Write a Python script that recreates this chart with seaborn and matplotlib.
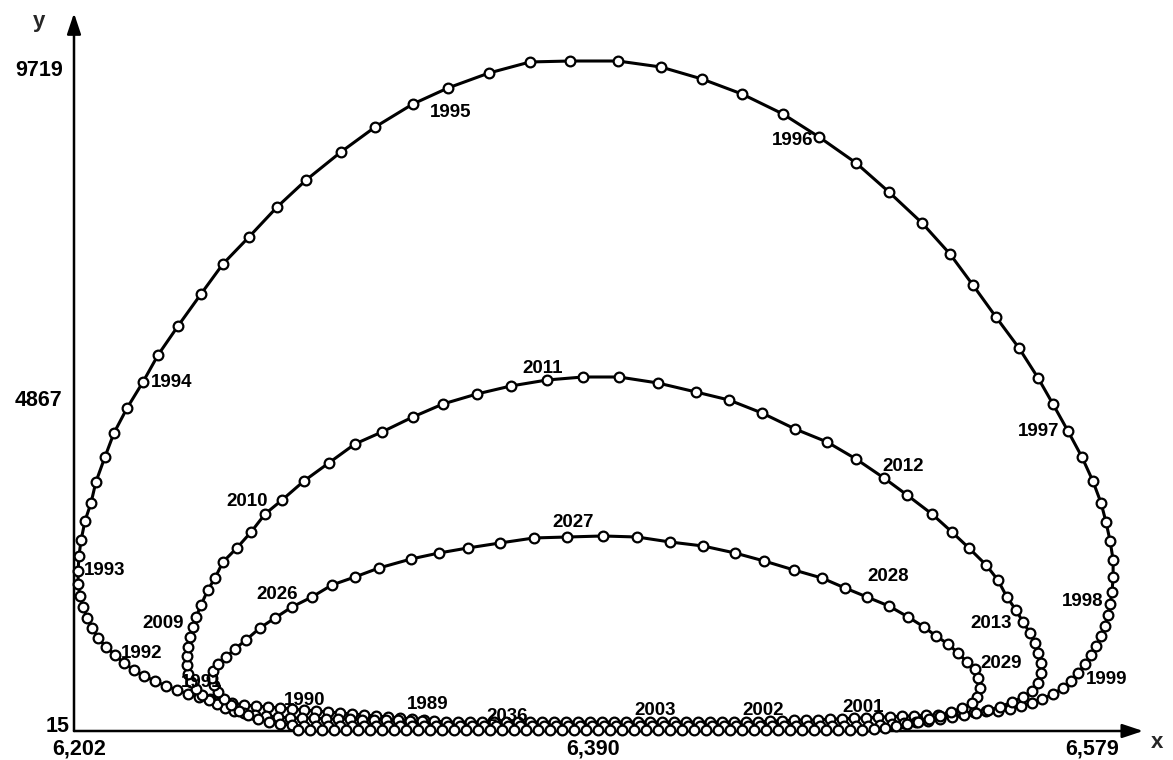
import numpy as np
import pandas as pd
import matplotlib
matplotlib.use("Agg")
import matplotlib.pyplot as plt
import seaborn as sns

# Phase trajectory (x, y), quarterly-ish observations in chronological order.
# 1989 -> 1999: bottom run to the left, then the large loop
x_1989_1999 = [
    6.3299, 6.3255, 6.3211, 6.3167, 6.3123, 6.3079, 6.3035, 6.2992, 6.2948, 6.2904,
    6.2860, 6.2816, 6.2772, 6.2729, 6.2685, 6.2641, 6.2597, 6.2557, 6.2517, 6.2477,
    6.2436, 6.2396, 6.2356, 6.2316, 6.2276, 6.2239, 6.2203, 6.2170, 6.2137, 6.2108,
    6.2086, 6.2068, 6.2053, 6.2042, 6.2035,
    6.2035, 6.2038, 6.2046, 6.2060, 6.2082, 6.2100, 6.2133, 6.2166, 6.2214, 6.2272,
    6.2327, 6.2400, 6.2484, 6.2564, 6.2659, 6.2762, 6.2868, 6.2995, 6.3120, 6.3258,
    6.3386, 6.3536, 6.3686, 6.3832,
    6.4007, 6.4164, 6.4314, 6.4460, 6.4610, 6.4742, 6.4877, 6.4997, 6.5118, 6.5220,
    6.5304, 6.5388, 6.5472, 6.5542, 6.5596, 6.5651, 6.5702, 6.5742, 6.5772,
    6.5790, 6.5805, 6.5816, 6.5816, 6.5812, 6.5805, 6.5797, 6.5786, 6.5772, 6.5753,
    6.5735, 6.5713, 6.5688, 6.5662, 6.5633, 6.5596, 6.5556, 6.5520, 6.5479, 6.5439,
]
y_1989_1999 = [
    176, 191, 206, 221, 235, 250, 265, 279, 294, 309,
    323, 338, 353, 367, 382, 397, 426, 455, 485, 514,
    558, 617, 676, 749, 822, 911, 1013, 1131, 1248, 1380,
    1527, 1674, 1835, 1997, 2173,
    2364, 2584, 2819, 3098, 3362, 3671, 4038, 4390, 4757, 5139,
    5535, 5961, 6431, 6871, 7267, 7708, 8104, 8515, 8882, 9220,
    9455, 9675, 9837, 9851,
    9851, 9763, 9587, 9367, 9073, 8735, 8354, 7928, 7473, 7018,
    6561, 6093, 5638, 5197, 4816, 4419, 4038, 3685, 3362,
    3083, 2804, 2526, 2276, 2056, 1880, 1718, 1557, 1410, 1263,
    1131, 999, 866, 749, 646, 558, 485, 426, 382, 338,
]

# 1999 -> 2013: long bottom run, then the middle loop
x_1999_2013 = [
    6.5395, 6.5352, 6.5308, 6.5264, 6.5220, 6.5176, 6.5132, 6.5088, 6.5045, 6.5001,
    6.4957, 6.4913, 6.4869, 6.4825, 6.4782, 6.4738, 6.4694, 6.4650, 6.4606, 6.4562,
    6.4519, 6.4475, 6.4431, 6.4387, 6.4343, 6.4299, 6.4256, 6.4212, 6.4168, 6.4124,
    6.4080, 6.4036, 6.3993, 6.3949, 6.3905, 6.3861, 6.3817, 6.3773, 6.3730, 6.3686,
    6.3642, 6.3598, 6.3554, 6.3510, 6.3467, 6.3423, 6.3379, 6.3335, 6.3291, 6.3247,
    6.3204, 6.3160, 6.3116, 6.3072, 6.3028, 6.2984, 6.2941, 6.2897, 6.2853, 6.2809,
    6.2765, 6.2721, 6.2681, 6.2641, 6.2605, 6.2572, 6.2542, 6.2513, 6.2488, 6.2466,
    6.2447, 6.2436,
    6.2433, 6.2433, 6.2436, 6.2444, 6.2455, 6.2466, 6.2484, 6.2509, 6.2535, 6.2564,
    6.2615, 6.2667, 6.2718, 6.2780, 6.2860, 6.2951, 6.3046, 6.3145, 6.3258, 6.3368,
    6.3492, 6.3616, 6.3748, 6.3879, 6.4011, 6.4153, 6.4292, 6.4413, 6.4533, 6.4654,
    6.4771, 6.4877, 6.4979, 6.5063, 6.5154, 6.5227, 6.5289, 6.5352, 6.5395, 6.5428,
    6.5461, 6.5487, 6.5512, 6.5531, 6.5542, 6.5552, 6.5552, 6.5542, 6.5520, 6.5487,
    6.5446, 6.5403,
]
y_1999_2013 = [
    309, 309, 294, 279, 265, 250, 250, 235, 235, 221,
    221, 206, 206, 191, 191, 176, 176, 176, 162, 162,
    147, 147, 147, 147, 147, 147, 147, 147, 147, 147,
    147, 147, 147, 147, 147, 147, 147, 147, 147, 147,
    147, 147, 147, 147, 147, 147, 147, 162, 162, 162,
    176, 176, 176, 176, 191, 191, 191, 206, 206, 206,
    221, 235, 250, 279, 309, 353, 411, 470, 543, 632,
    734, 852,
    984, 1116, 1248, 1395, 1542, 1689, 1865, 2085, 2261, 2496,
    2702, 2937, 3201, 3406, 3685, 3950, 4228, 4405, 4625, 4816,
    4963, 5080, 5168, 5212, 5212, 5124, 4992, 4874, 4684, 4449,
    4258, 4008, 3729, 3480, 3201, 2937, 2702, 2452, 2232, 1982,
    1791, 1615, 1454, 1307, 1160, 1013, 866, 720, 602, 514,
    441, 367,
]

# 2013 -> 2029: bottom run, then the small loop
x_2013_2029 = [
    6.5359, 6.5315, 6.5271, 6.5227, 6.5184, 6.5140, 6.5096, 6.5052, 6.5008, 6.4964,
    6.4920, 6.4877, 6.4833, 6.4789, 6.4745, 6.4701, 6.4657, 6.4614, 6.4570, 6.4526,
    6.4482, 6.4438, 6.4394, 6.4351, 6.4307, 6.4263, 6.4219, 6.4175, 6.4131, 6.4088,
    6.4044, 6.4000, 6.3956, 6.3912, 6.3868, 6.3825, 6.3781, 6.3737, 6.3693, 6.3649,
    6.3605, 6.3562, 6.3518, 6.3474, 6.3430, 6.3386, 6.3342, 6.3299, 6.3255, 6.3211,
    6.3167, 6.3123, 6.3079, 6.3036, 6.2992, 6.2948, 6.2904, 6.2860, 6.2816, 6.2773,
    6.2732, 6.2692, 6.2656, 6.2623, 6.2594, 6.2568, 6.2546, 6.2531, 6.2524, 6.2528,
    6.2546, 6.2575, 6.2608, 6.2648, 6.2699, 6.2754, 6.2816, 6.2889, 6.2962, 6.3046,
    6.3134, 6.3251, 6.3353, 6.3459, 6.3576, 6.3700, 6.3821, 6.3952, 6.4077, 6.4197,
    6.4318, 6.4435, 6.4541, 6.4650, 6.4752, 6.4837, 6.4917, 6.4997, 6.5067, 6.5125,
    6.5169, 6.5213, 6.5249, 6.5282, 6.5311, 6.5322, 6.5330, 6.5319, 6.5300,
]
y_2013_2029 = [
    323, 279, 250, 221, 191, 162, 147, 132, 118, 103,
    88, 88, 88, 88, 88, 88, 88, 88, 88, 88,
    88, 88, 88, 88, 88, 88, 88, 88, 88, 88,
    88, 88, 88, 88, 88, 88, 88, 88, 88, 88,
    88, 88, 88, 88, 88, 88, 88, 88, 88, 88,
    88, 88, 88, 88, 88, 88, 88, 88, 103, 118,
    147, 191, 250, 309, 397, 485, 587, 690, 793, 896,
    999, 1101, 1219, 1351, 1527, 1674, 1835, 1982, 2158, 2276,
    2408, 2540, 2628, 2702, 2775, 2849, 2863, 2878, 2863, 2790,
    2731, 2628, 2511, 2379, 2261, 2114, 1982, 1850, 1689, 1542,
    1410, 1292, 1160, 1028, 925, 793, 646, 514, 426,
]

# 2029 -> 2040: final bottom run
x_2029_2040 = [
    6.5264, 6.5224, 6.5184, 6.5143, 6.5103, 6.5063, 6.5023, 6.4983, 6.4942,
    6.4898, 6.4855, 6.4811, 6.4767, 6.4723, 6.4679, 6.4635, 6.4592, 6.4548, 6.4504,
    6.4460, 6.4416, 6.4372, 6.4329, 6.4285, 6.4241, 6.4197, 6.4153, 6.4109, 6.4066,
    6.4022, 6.3978, 6.3934, 6.3890, 6.3846, 6.3803, 6.3759, 6.3715, 6.3671, 6.3627,
    6.3583, 6.3540, 6.3496, 6.3452, 6.3408, 6.3364, 6.3320, 6.3277, 6.3233, 6.3189,
    6.3145, 6.3101, 6.3057, 6.3014, 6.2970, 6.2926, 6.2882, 6.2838,
]
y_2029_2040 = [
    353, 294, 235, 191, 147, 118, 88, 59, 44,
    30, 30, 30, 30, 30, 30, 30, 30, 30, 30,
    30, 30, 30, 30, 30, 30, 30, 30, 30, 30,
    30, 30, 30, 30, 30, 30, 30, 30, 30, 30,
    30, 30, 30, 30, 30, 30, 30, 30, 30, 30,
    30, 30, 30, 30, 30, 30, 30, 30,
]

# Year annotations along the trajectory
year_labels = ["1989", "1990", "1991", "1992", "1993", "1994", "1995", "1996",
               "1997", "1998", "1999", "2001", "2002", "2003", "2009", "2010",
               "2011", "2012", "2013", "2026", "2027", "2028", "2029", "2036"]
year_label_x = [6.3313, 6.2864, 6.2488, 6.2268, 6.2133, 6.2378, 6.3397, 6.4647,
                6.5545, 6.5706, 6.5794, 6.4902, 6.4537, 6.4142, 6.2345, 6.2652,
                6.3733, 6.5048, 6.5370, 6.2762, 6.3843, 6.4994, 6.5406, 6.3602]
year_label_y = [411, 470, 734, 1160, 2364, 5124, 9088, 8691,
                4419, 1909, 764, 367, 323, 309, 1600, 3377,
                5344, 3905, 1586, 2012, 3069, 2276, 999, 235]

# Axis ticks
x_ticks = [6.202, 6.390, 6.579]
x_tick_labels = ["6,202", "6,390", "6,579"]
y_ticks = [15, 4867, 9719]
y_tick_labels = ["15", "4867", "9719"]

segments = [(x_1989_1999, y_1989_1999), (x_1999_2013, y_1999_2013),
            (x_2013_2029, y_2013_2029), (x_2029_2040, y_2029_2040)]
df = pd.DataFrame({
    "x": np.concatenate([s[0] for s in segments]),
    "y": np.concatenate([s[1] for s in segments]),
})

sns.set_style("white")
plt.rcParams["font.family"] = ["Liberation Sans", "DejaVu Sans"]

W, H = 1173, 760
fig = plt.figure(figsize=(W / 100, H / 100), dpi=100)
ax = fig.add_axes([74 / W, 29 / H, 1032 / W, 661 / H])

sns.lineplot(data=df, x="x", y="y", sort=False, estimator=None, ax=ax,
             color="black", linewidth=2.2, marker="o", markersize=7,
             markerfacecolor="white", markeredgecolor="black",
             markeredgewidth=1.6, zorder=3)
for ln in ax.lines:
    ln.set_clip_on(False)

ax.set_xlim(x_ticks[0], x_ticks[-1])
ax.set_ylim(y_ticks[0], y_ticks[-1])
for s in ax.spines.values():
    s.set_visible(False)
ax.set_xlabel("")
ax.set_ylabel("")

# inward tick marks, labels drawn separately
ax.set_xticks(x_ticks[1:])
ax.set_yticks(y_ticks[1:])
ax.tick_params(direction="in", length=6, width=1.5, color="black",
               labelleft=False, labelbottom=False)

# axes with arrow heads
arrow_kw = dict(arrowstyle="-|>,head_length=0.9,head_width=0.3", color="black",
                lw=1.8, shrinkA=0, shrinkB=0, mutation_scale=14)
ax.annotate("", xy=(0, 1.086), xytext=(0, 0), xycoords="axes fraction",
            textcoords="axes fraction", arrowprops=arrow_kw,
            annotation_clip=False, zorder=2)
ax.annotate("", xy=(1.036, 0), xytext=(0, 0), xycoords="axes fraction",
            textcoords="axes fraction", arrowprops=arrow_kw,
            annotation_clip=False, zorder=2)

tick_font = dict(fontsize=15.5, fontweight="bold", color="black")
xt = ax.get_xaxis_transform()
for xv, lab, dx in zip(x_ticks, x_tick_labels, [0.0018, 0.0016, -0.0051]):
    ax.text(xv + dx, -0.011, lab, transform=xt, ha="center", va="top",
            clip_on=False, **tick_font)
yt = ax.get_yaxis_transform()
for yv, lab, dx in zip(y_ticks, y_tick_labels, [-0.004, -0.011, -0.011]):
    ax.text(dx, yv + (60 if yv == 15 else 0), lab, transform=yt, ha="right",
            va="center", clip_on=False, **tick_font)

ax.text(-0.034, 1.073, "y", transform=ax.transAxes, ha="center", va="center",
        fontsize=16, fontweight="bold", clip_on=False)
ax.text(1.049, -0.017, "x", transform=ax.transAxes, ha="center", va="center",
        fontsize=16, fontweight="bold", clip_on=False)

for lab, lx, ly in zip(year_labels, year_label_x, year_label_y):
    ax.text(lx, ly, lab, ha="center", va="center", fontsize=13.5,
            fontweight="bold", color="black", zorder=4)

fig.savefig("out.png", dpi=100)
